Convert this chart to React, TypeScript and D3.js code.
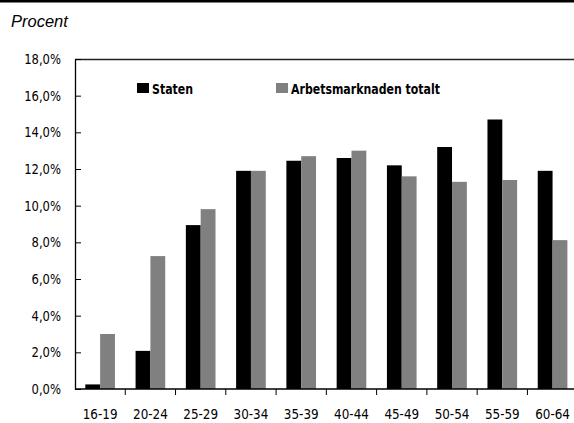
import React from 'react';
import * as d3 from 'd3';

const categories = ['16-19', '20-24', '25-29', '30-34', '35-39', '40-44', '45-49', '50-54', '55-59', '60-64'];
const statenValues = [0.25, 2.08, 8.94, 11.9, 12.45, 12.6, 12.2, 13.2, 14.7, 11.9];
const totaltValues = [3.0, 7.25, 9.81, 11.9, 12.7, 13.0, 11.6, 11.3, 11.4, 8.12];
const yTicks = [0, 2, 4, 6, 8, 10, 12, 14, 16, 18];
const seriesNames = ['Staten', 'Arbetsmarknaden totalt'];
const seriesColors = ['#000000', '#808080'];

const width = 574;
const height = 423;
const margin = { top: 59, right: -3.7, bottom: 34, left: 75 };
const condensed = '"DejaVu Sans Condensed", "Liberation Sans Narrow", sans-serif';

// squeeze text horizontally to mimic the narrow font of the original
const squeeze = (sel: d3.Selection<any, any, any, any>, factor: number) => {
  sel.each(function () {
    const t = this as SVGTextElement;
    const w = t.getComputedTextLength();
    t.setAttribute('textLength', String(w * factor));
    t.setAttribute('lengthAdjust', 'spacingAndGlyphs');
  });
};

const App: React.FC = () => {
  const svgRef = React.useRef<SVGSVGElement>(null);

  React.useEffect(() => {
    if (!svgRef.current) return;
    d3.select(svgRef.current).selectAll('*').remove();
    const svg = d3.select(svgRef.current);

    const chartWidth = width - margin.left - margin.right;
    const chartHeight = height - margin.top - margin.bottom;

    const x0 = d3.scaleBand().domain(categories).range([0, chartWidth]).paddingInner(0).paddingOuter(0);
    const groupW = x0.bandwidth() * 0.59;
    const x1 = d3.scaleBand()
      .domain(['staten', 'totalt'])
      .range([(x0.bandwidth() - groupW) / 2, (x0.bandwidth() + groupW) / 2])
      .padding(0);
    const y = d3.scaleLinear().domain([0, 18]).range([chartHeight, 0]);

    // top black rule
    svg.append('rect').attr('x', 0).attr('y', 0).attr('width', width).attr('height', 2.5).attr('fill', '#000');

    svg.append('text')
      .attr('x', 11)
      .attr('y', 27)
      .attr('font-family', '"Liberation Sans", Arial, sans-serif')
      .attr('font-style', 'italic')
      .attr('font-size', 16.5)
      .attr('fill', '#000')
      .text('Procent');

    const g = svg.append('g').attr('transform', `translate(${margin.left},${margin.top})`);

    // frame top line
    g.append('line')
      .attr('x1', 0).attr('x2', width - margin.left)
      .attr('y1', 0.5).attr('y2', 0.5)
      .attr('stroke', '#222').attr('stroke-width', 1.3);

    // bars
    const groups = g.append('g')
      .selectAll('g')
      .data(categories)
      .enter().append('g')
      .attr('transform', d => `translate(${x0(d) || 0},0)`);

    groups.append('rect')
      .attr('x', x1('staten') || 0)
      .attr('y', (d, i) => y(statenValues[i]))
      .attr('width', x1.bandwidth())
      .attr('height', (d, i) => chartHeight - y(statenValues[i]))
      .attr('fill', seriesColors[0]);

    groups.append('rect')
      .attr('x', x1('totalt') || 0)
      .attr('y', (d, i) => y(totaltValues[i]))
      .attr('width', x1.bandwidth())
      .attr('height', (d, i) => chartHeight - y(totaltValues[i]))
      .attr('fill', seriesColors[1]);

    // y axis
    const yAxis = g.append('g')
      .call(d3.axisLeft(y).tickValues(yTicks).tickSizeInner(-6).tickSizeOuter(0).tickPadding(14)
        .tickFormat(d => `${(d as number).toFixed(1).replace('.', ',')}%`));
    yAxis.select('.domain').attr('stroke', '#000').attr('stroke-width', 1.3);
    yAxis.selectAll('.tick line').attr('stroke', '#000');
    const yText = yAxis.selectAll('.tick text')
      .attr('font-family', condensed)
      .attr('font-size', 14)
      .attr('fill', '#000');
    squeeze(yText, 0.92);

    // x axis
    const xAxis = g.append('g')
      .attr('transform', `translate(0,${chartHeight})`)
      .call(d3.axisBottom(x0).tickSize(0).tickPadding(20));
    xAxis.select('.domain').remove();
    xAxis.append('line')
      .attr('x1', 0).attr('x2', width - margin.left)
      .attr('y1', 0).attr('y2', 0)
      .attr('stroke', '#000').attr('stroke-width', 1.3);
    const xText = xAxis.selectAll('.tick text')
      .attr('font-family', condensed)
      .attr('font-size', 14)
      .attr('fill', '#000');
    squeeze(xText, 0.95);
    xAxis.selectAll('.sep')
      .data(categories.slice(1))
      .enter().append('line')
      .attr('class', 'sep')
      .attr('x1', d => x0(d) || 0).attr('x2', d => x0(d) || 0)
      .attr('y1', 0).attr('y2', 6)
      .attr('stroke', '#000');

    // legend
    const legendX = [137, 276];
    const legend = svg.append('g')
      .selectAll('g')
      .data(seriesNames)
      .enter().append('g')
      .attr('transform', (d, i) => `translate(${legendX[i]},83)`);
    legend.append('rect')
      .attr('width', 12).attr('height', 10)
      .attr('fill', (d, i) => seriesColors[i]);
    const legendText = legend.append('text')
      .attr('x', 15)
      .attr('y', 10.5)
      .attr('font-family', condensed)
      .attr('font-weight', 'bold')
      .attr('font-size', 14)
      .attr('fill', '#000')
      .text(d => d);
    squeeze(legendText, 0.87);
  }, []);

  return (
    <svg
      ref={svgRef}
      width={width}
      height={height}
      style={{ position: 'absolute', left: 0, top: 0, background: '#fff' }}
    />
  );
};

export default App;
